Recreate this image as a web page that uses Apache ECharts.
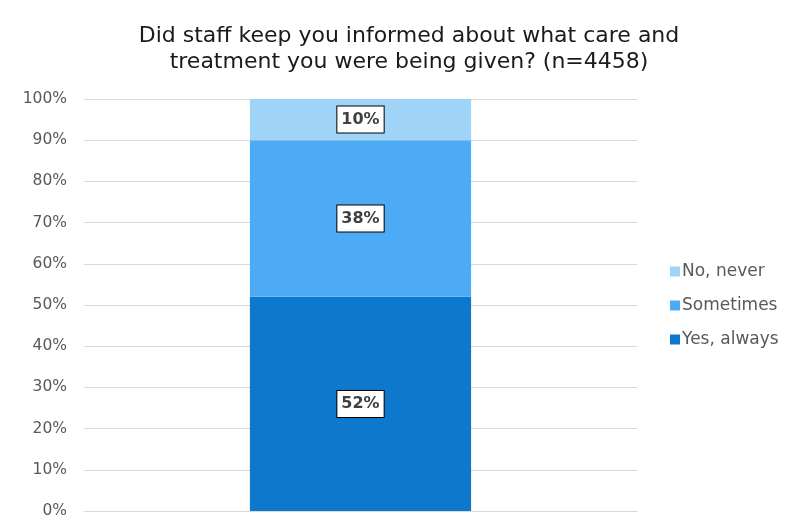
<!DOCTYPE html>
<html>
<head>
<meta charset="utf-8">
<script src="https://cdn.jsdelivr.net/npm/echarts@6/dist/echarts.min.js"></script>
<style>
  html, body { margin: 0; padding: 0; background: #ffffff; }
  #chart { width: 796px; height: 531px; }
</style>
</head>
<body>
<div id="chart"></div>
<script>
// Survey question and response breakdown (percent of respondents)
const titleText = 'Did staff keep you informed about what care and\ntreatment you were being given? (n=4458)';
const categories = [''];
const seriesNames = ['Yes, always', 'Sometimes', 'No, never'];
const yesAlways = [52];
const sometimes = [38];
const noNever = [10];
const seriesColors = ['#0E78CD', '#4DABF5', '#9FD3F8'];
const legendOrder = ['No, never', 'Sometimes', 'Yes, always'];

const FONT = '"DejaVu Sans", "Noto Sans", sans-serif';

const labelStyle = {
  show: true,
  position: 'inside',
  formatter: p => p.value + '%',
  fontFamily: FONT,
  fontSize: 16,
  fontWeight: 'bold',
  color: '#404040',
  backgroundColor: '#ffffff',
  borderColor: '#000000',
  borderWidth: 1,
  padding: [6, 4, 4, 4]
};

const valuesList = [yesAlways, sometimes, noNever];
const series = seriesNames.map((name, i) => ({
  name: name,
  type: 'bar',
  stack: 'total',
  barWidth: '40%',
  data: valuesList[i],
  itemStyle: { color: seriesColors[i] },
  label: labelStyle,
  emphasis: { disabled: true }
}));

const chart = echarts.init(document.getElementById('chart'), null, { renderer: 'canvas' });
chart.setOption({
  animation: false,
  title: {
    text: titleText,
    left: 404,
    textAlign: 'center',
    top: 18,
    textStyle: {
      fontFamily: FONT,
      fontSize: 22,
      fontWeight: 'normal',
      color: '#1a1a1a',
      lineHeight: 26
    }
  },
  legend: {
    data: legendOrder,
    orient: 'vertical',
    left: 665,
    top: 258,
    itemWidth: 10,
    itemHeight: 10,
    itemGap: 17,
    icon: 'rect',
    textStyle: { fontFamily: FONT, fontSize: 17, color: '#595959', padding: [0, 0, 0, -3] }
  },
  grid: { left: 84, right: 159, top: 99, bottom: 20, containLabel: false },
  xAxis: {
    type: 'category',
    data: categories,
    axisLine: { show: true, lineStyle: { color: '#d9d9d9', width: 1 } },
    axisTick: { show: false },
    axisLabel: { show: false }
  },
  yAxis: {
    type: 'value',
    min: 0,
    max: 100,
    interval: 10,
    axisLine: { show: false },
    axisTick: { show: false },
    splitLine: { lineStyle: { color: '#d9d9d9', width: 1 } },
    axisLabel: {
      formatter: '{value}%',
      fontFamily: FONT,
      fontSize: 15.5,
      color: '#595959',
      margin: 17
    }
  },
  series: series
});
</script>
</body>
</html>
